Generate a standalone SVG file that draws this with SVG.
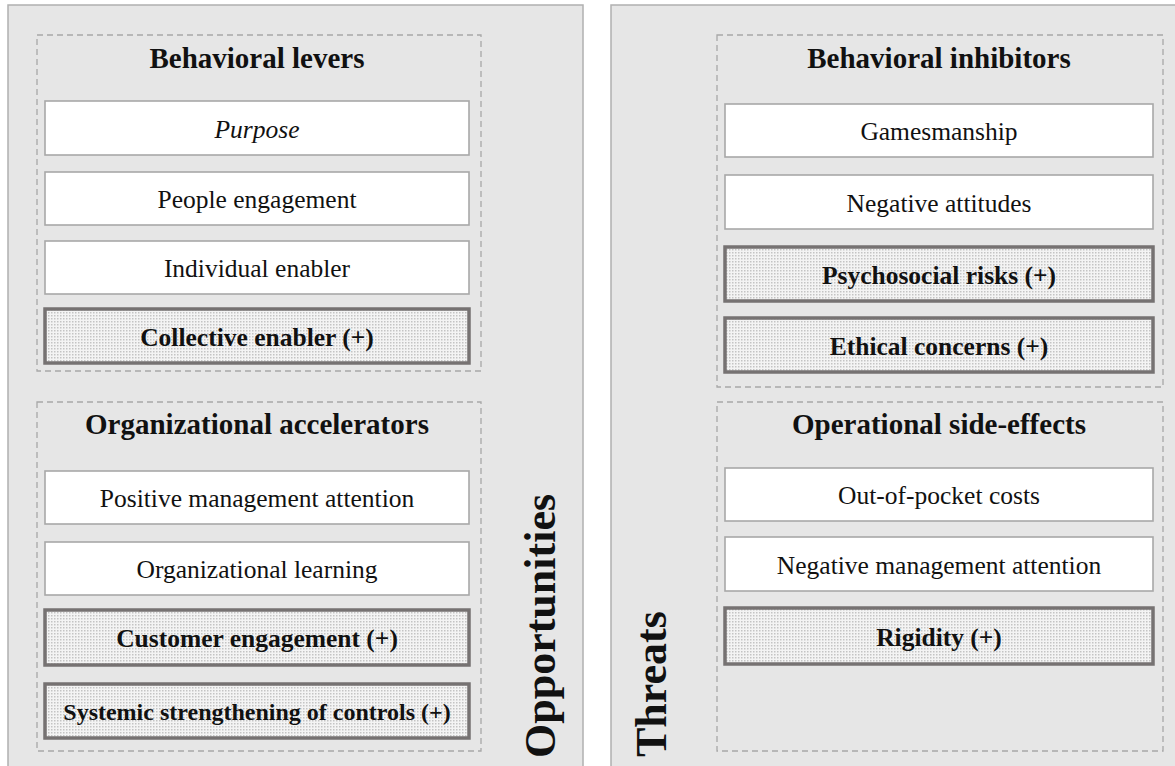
<svg xmlns="http://www.w3.org/2000/svg" width="1175" height="766" viewBox="0 0 1175 766">
<style>
.panel{fill:#e6e6e6;stroke:#b0b0b0;stroke-width:1.5}
.grp{fill:none;stroke:#a8a8a8;stroke-width:1.3;stroke-dasharray:6 4}
.box{fill:#fff;stroke:#a8a8a8;stroke-width:1.6}
.hbox{fill:url(#dots);stroke:#767272;stroke-width:3.5}
.t{font-family:"Liberation Serif","Times New Roman",serif;font-size:25.5px;fill:#111;text-anchor:middle}
.b{font-weight:bold}
.i{font-style:italic}
.title{font-family:"Liberation Serif","Times New Roman",serif;font-size:29px;font-weight:bold;fill:#111;text-anchor:middle}
.side{font-family:"Liberation Serif","Times New Roman",serif;font-size:44px;font-weight:bold;fill:#111}
</style>
<defs>
<pattern id="dots" width="3" height="3" patternUnits="userSpaceOnUse">
<rect width="3" height="3" fill="#f4f4f4"/>
<rect width="1.5" height="1.5" fill="#c4c4c4"/>
</pattern>
</defs>
<rect class="panel" x="8" y="5" width="575" height="780"/>
<rect class="panel" x="611" y="5" width="580" height="780"/>
<g id="behavioral-levers">
<rect class="grp" x="37" y="35" width="444" height="336"/>
<text class="title" x="257" y="68">Behavioral levers</text>
</g>
<g id="purpose"><rect class="box" x="45" y="101" width="424" height="54"/><text class="t i" x="257" y="137.5">Purpose</text></g>
<g id="people-engagement"><rect class="box" x="45" y="172" width="424" height="53"/><text class="t" x="257" y="208">People engagement</text></g>
<g id="individual-enabler"><rect class="box" x="45" y="241" width="424" height="53"/><text class="t" x="257" y="277">Individual enabler</text></g>
<g id="collective-enabler"><rect class="hbox" x="45" y="309" width="424" height="54"/><text class="t b" x="257" y="345.5">Collective enabler (+)</text></g>
<g id="organizational-accelerators">
<rect class="grp" x="37" y="402" width="444" height="349"/>
<text class="title" x="257" y="434">Organizational accelerators</text>
</g>
<g id="positive-management-attention"><rect class="box" x="45" y="471" width="424" height="53"/><text class="t" x="257" y="507">Positive management attention</text></g>
<g id="organizational-learning"><rect class="box" x="45" y="542" width="424" height="53"/><text class="t" x="257" y="578">Organizational learning</text></g>
<g id="customer-engagement"><rect class="hbox" x="45" y="610" width="424" height="55"/><text class="t b" x="257" y="647">Customer engagement (+)</text></g>
<g id="systemic-strengthening"><rect class="hbox" x="45" y="684" width="424" height="54"/><text class="t b" x="257" y="720" style="font-size:24px">Systemic strengthening of controls (+)</text></g>
<g id="opportunities"><text class="side" transform="translate(555,758) rotate(-90)">Opportunities</text></g>
<g id="behavioral-inhibitors">
<rect class="grp" x="717" y="35" width="446" height="352"/>
<text class="title" x="939" y="68">Behavioral inhibitors</text>
</g>
<g id="gamesmanship"><rect class="box" x="725" y="104" width="428" height="53"/><text class="t" x="939" y="140">Gamesmanship</text></g>
<g id="negative-attitudes"><rect class="box" x="725" y="175" width="428" height="54"/><text class="t" x="939" y="211.5">Negative attitudes</text></g>
<g id="psychosocial-risks"><rect class="hbox" x="725" y="247" width="428" height="54"/><text class="t b" x="939" y="283.5">Psychosocial risks (+)</text></g>
<g id="ethical-concerns"><rect class="hbox" x="725" y="318" width="428" height="54"/><text class="t b" x="939" y="354.5">Ethical concerns (+)</text></g>
<g id="operational-side-effects">
<rect class="grp" x="717" y="402" width="446" height="349"/>
<text class="title" x="939" y="434">Operational side-effects</text>
</g>
<g id="out-of-pocket-costs"><rect class="box" x="725" y="468" width="428" height="53"/><text class="t" x="939" y="504">Out-of-pocket costs</text></g>
<g id="negative-management-attention"><rect class="box" x="725" y="537" width="428" height="54"/><text class="t" x="939" y="573.5">Negative management attention</text></g>
<g id="rigidity"><rect class="hbox" x="725" y="608" width="428" height="56"/><text class="t b" x="939" y="645.5">Rigidity (+)</text></g>
<g id="threats"><text class="side" transform="translate(666,757) rotate(-90)">Threats</text></g>
<g id="connectors"></g>
</svg>
